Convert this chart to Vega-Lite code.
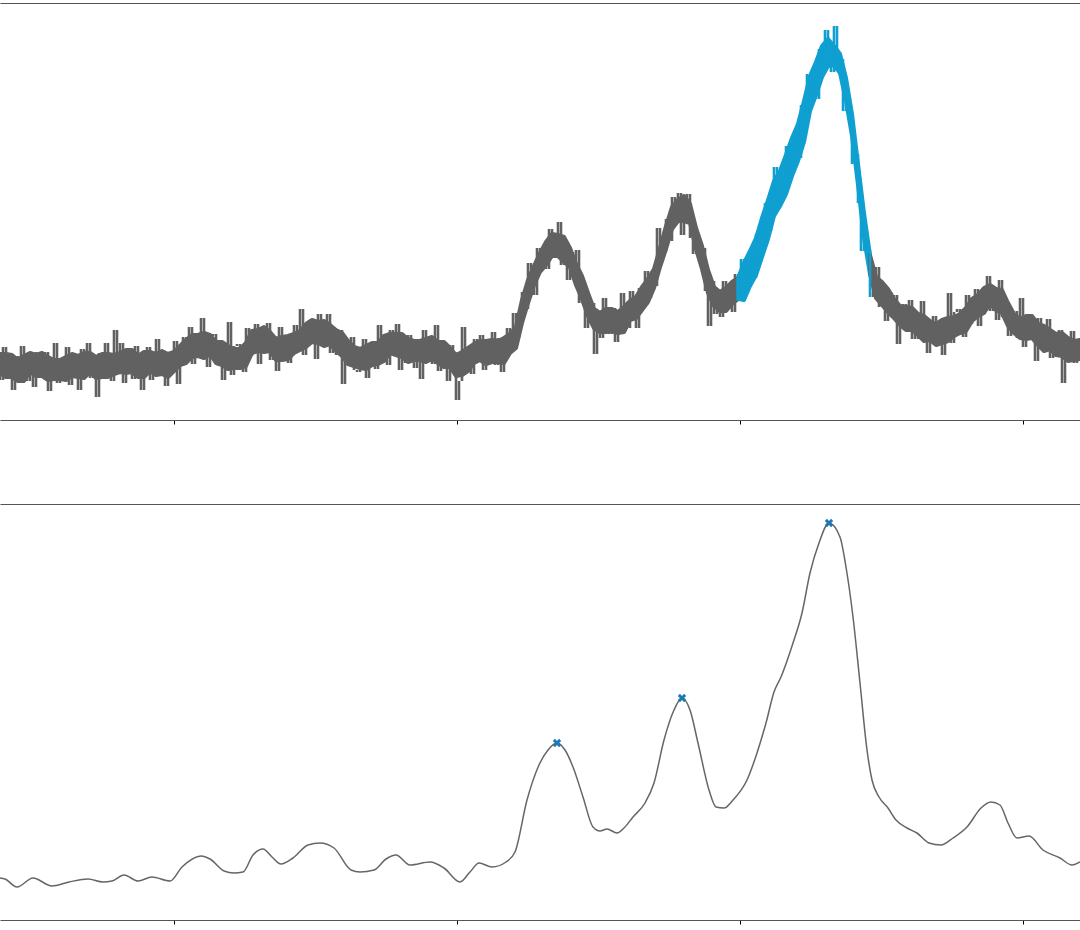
{
"$schema": "https://vega.github.io/schema/vega-lite/v6.json",
"padding": {"left": -3, "right": 0, "top": 3, "bottom": 0},
"autosize": {"type": "pad"},
"background": "white",
"config": {"view": {"stroke": null}},
"bounds": "flush",
"spacing": 84,
"datasets": {
"raw": [
{"x":0,"y":67,"n":40,"s":"a"},{"x":3,"y":40,"n":73,"s":"a"},{"x":6,"y":73,"n":46,"s":"a"},{"x":9,"y":46,"n":56,"s":"a"},{"x":12,"y":56,"n":30,"s":"a"},{"x":15,"y":30,"n":64,"s":"a"},{"x":18,"y":64,"n":39,"s":"a"},{"x":21,"y":39,"n":74,"s":"a"},{"x":24,"y":74,"n":49,"s":"a"},{"x":27,"y":49,"n":39,"s":"a"},{"x":30,"y":39,"n":65,"s":"a"},{"x":33,"y":65,"n":33,"s":"a"},{"x":36,"y":33,"n":68,"s":"a"},{"x":39,"y":68,"n":57,"s":"a"},{"x":42,"y":57,"n":43,"s":"a"},{"x":45,"y":43,"n":68,"s":"a"},{"x":48,"y":68,"n":29,"s":"a"},{"x":51,"y":29,"n":57,"s":"a"},{"x":54,"y":57,"n":77,"s":"a"},{"x":57,"y":77,"n":37,"s":"a"},{"x":60,"y":37,"n":61,"s":"a"},{"x":63,"y":61,"n":48,"s":"a"},{"x":66,"y":48,"n":73,"s":"a"},{"x":69,"y":73,"n":35,"s":"a"},{"x":72,"y":35,"n":55,"s":"a"},{"x":75,"y":55,"n":66,"s":"a"},{"x":78,"y":66,"n":30,"s":"a"},{"x":81,"y":30,"n":71,"s":"a"},{"x":84,"y":71,"n":49,"s":"a"},{"x":87,"y":49,"n":77,"s":"a"},{"x":90,"y":77,"n":42,"s":"a"},{"x":93,"y":42,"n":59,"s":"a"},{"x":96,"y":59,"n":23,"s":"a"},{"x":99,"y":23,"n":67,"s":"a"},{"x":102,"y":67,"n":44,"s":"a"},{"x":105,"y":44,"n":77,"s":"a"},{"x":108,"y":77,"n":51,"s":"a"},{"x":111,"y":51,"n":39,"s":"a"},{"x":114,"y":39,"n":90,"s":"a"},{"x":117,"y":90,"n":50,"s":"a"},
{"x":120,"y":50,"n":77,"s":"a"},{"x":123,"y":77,"n":37,"s":"a"},{"x":126,"y":37,"n":63,"s":"a"},{"x":129,"y":63,"n":69,"s":"a"},{"x":132,"y":69,"n":41,"s":"a"},{"x":135,"y":41,"n":74,"s":"a"},{"x":138,"y":74,"n":51,"s":"a"},{"x":141,"y":51,"n":30,"s":"a"},{"x":144,"y":30,"n":67,"s":"a"},{"x":147,"y":67,"n":73,"s":"a"},{"x":150,"y":73,"n":40,"s":"a"},{"x":153,"y":40,"n":60,"s":"a"},{"x":156,"y":60,"n":81,"s":"a"},{"x":159,"y":81,"n":44,"s":"a"},{"x":162,"y":44,"n":63,"s":"a"},{"x":165,"y":63,"n":34,"s":"a"},{"x":168,"y":34,"n":68,"s":"a"},{"x":171,"y":68,"n":57,"s":"a"},{"x":174,"y":57,"n":79,"s":"a"},{"x":177,"y":79,"n":36,"s":"a"},{"x":180,"y":36,"n":74,"s":"a"},{"x":183,"y":74,"n":83,"s":"a"},{"x":186,"y":83,"n":61,"s":"a"},{"x":189,"y":61,"n":93,"s":"a"},{"x":192,"y":93,"n":56,"s":"a"},{"x":195,"y":56,"n":79,"s":"a"},{"x":198,"y":79,"n":63,"s":"a"},{"x":201,"y":63,"n":102,"s":"a"},{"x":204,"y":102,"n":70,"s":"a"},{"x":207,"y":70,"n":53,"s":"a"},{"x":210,"y":53,"n":84,"s":"a"},{"x":213,"y":84,"n":86,"s":"a"},{"x":216,"y":86,"n":57,"s":"a"},{"x":219,"y":57,"n":66,"s":"a"},{"x":222,"y":66,"n":40,"s":"a"},{"x":225,"y":40,"n":71,"s":"a"},{"x":228,"y":71,"n":98,"s":"a"},{"x":231,"y":98,"n":45,"s":"a"},{"x":234,"y":45,"n":74,"s":"a"},{"x":237,"y":74,"n":76,"s":"a"},
{"x":240,"y":76,"n":55,"s":"a"},{"x":243,"y":55,"n":48,"s":"a"},{"x":246,"y":48,"n":92,"s":"a"},{"x":249,"y":92,"n":64,"s":"a"},{"x":252,"y":64,"n":83,"s":"a"},{"x":255,"y":83,"n":96,"s":"a"},{"x":258,"y":96,"n":56,"s":"a"},{"x":261,"y":56,"n":90,"s":"a"},{"x":264,"y":90,"n":76,"s":"a"},{"x":267,"y":76,"n":97,"s":"a"},{"x":270,"y":97,"n":60,"s":"a"},{"x":273,"y":60,"n":76,"s":"a"},{"x":276,"y":76,"n":49,"s":"a"},{"x":279,"y":49,"n":93,"s":"a"},{"x":282,"y":93,"n":63,"s":"a"},{"x":285,"y":63,"n":84,"s":"a"},{"x":288,"y":84,"n":57,"s":"a"},{"x":291,"y":57,"n":77,"s":"a"},{"x":294,"y":77,"n":95,"s":"a"},{"x":297,"y":95,"n":70,"s":"a"},{"x":300,"y":70,"n":111,"s":"a"},{"x":303,"y":111,"n":65,"s":"a"},{"x":306,"y":65,"n":94,"s":"a"},{"x":309,"y":94,"n":82,"s":"a"},{"x":312,"y":82,"n":100,"s":"a"},{"x":315,"y":100,"n":61,"s":"a"},{"x":318,"y":61,"n":106,"s":"a"},{"x":321,"y":106,"n":78,"s":"a"},{"x":324,"y":78,"n":88,"s":"a"},{"x":327,"y":88,"n":106,"s":"a"},{"x":330,"y":106,"n":67,"s":"a"},{"x":333,"y":67,"n":88,"s":"a"},{"x":336,"y":88,"n":65,"s":"a"},{"x":339,"y":65,"n":90,"s":"a"},{"x":342,"y":90,"n":36,"s":"a"},{"x":345,"y":36,"n":77,"s":"a"},{"x":348,"y":77,"n":60,"s":"a"},{"x":351,"y":60,"n":83,"s":"a"},{"x":354,"y":83,"n":50,"s":"a"},{"x":357,"y":50,"n":48,"s":"a"},
{"x":360,"y":48,"n":69,"s":"a"},{"x":363,"y":69,"n":81,"s":"a"},{"x":366,"y":81,"n":42,"s":"a"},{"x":369,"y":42,"n":76,"s":"a"},{"x":372,"y":76,"n":60,"s":"a"},{"x":375,"y":60,"n":51,"s":"a"},{"x":378,"y":51,"n":95,"s":"a"},{"x":381,"y":95,"n":63,"s":"a"},{"x":384,"y":63,"n":77,"s":"a"},{"x":387,"y":77,"n":55,"s":"a"},{"x":390,"y":55,"n":90,"s":"a"},{"x":393,"y":90,"n":73,"s":"a"},{"x":396,"y":73,"n":96,"s":"a"},{"x":399,"y":96,"n":50,"s":"a"},{"x":402,"y":50,"n":79,"s":"a"},{"x":405,"y":79,"n":57,"s":"a"},{"x":408,"y":57,"n":85,"s":"a"},{"x":411,"y":85,"n":68,"s":"a"},{"x":414,"y":68,"n":52,"s":"a"},{"x":417,"y":52,"n":80,"s":"a"},{"x":420,"y":80,"n":41,"s":"a"},{"x":423,"y":41,"n":90,"s":"a"},{"x":426,"y":90,"n":63,"s":"a"},{"x":429,"y":63,"n":75,"s":"a"},{"x":432,"y":75,"n":56,"s":"a"},{"x":435,"y":56,"n":95,"s":"a"},{"x":438,"y":95,"n":49,"s":"a"},{"x":441,"y":49,"n":75,"s":"a"},{"x":444,"y":75,"n":61,"s":"a"},{"x":447,"y":61,"n":39,"s":"a"},{"x":450,"y":39,"n":75,"s":"a"},{"x":453,"y":75,"n":49,"s":"a"},{"x":456,"y":49,"n":20,"s":"a"},{"x":459,"y":20,"n":39,"s":"a"},{"x":462,"y":39,"n":93,"s":"a"},{"x":465,"y":93,"n":50,"s":"a"},{"x":468,"y":50,"n":67,"s":"a"},{"x":471,"y":67,"n":46,"s":"a"},{"x":474,"y":46,"n":81,"s":"a"},{"x":477,"y":81,"n":60,"s":"a"},
{"x":480,"y":60,"n":85,"s":"a"},{"x":483,"y":85,"n":50,"s":"a"},{"x":486,"y":50,"n":76,"s":"a"},{"x":489,"y":76,"n":63,"s":"a"},{"x":492,"y":63,"n":88,"s":"a"},{"x":495,"y":88,"n":55,"s":"a"},{"x":498,"y":55,"n":82,"s":"a"},{"x":501,"y":82,"n":48,"s":"a"},{"x":504,"y":48,"n":77,"s":"a"},{"x":507,"y":77,"n":92,"s":"a"},{"x":510,"y":92,"n":70,"s":"a"},{"x":513,"y":70,"n":107,"s":"a"},{"x":516,"y":107,"n":82,"s":"a"},{"x":519,"y":82,"n":104,"s":"a"},{"x":522,"y":104,"n":128,"s":"a"},{"x":525,"y":128,"n":111,"s":"a"},{"x":528,"y":111,"n":157,"s":"a"},{"x":531,"y":157,"n":137,"s":"a"},{"x":534,"y":137,"n":125,"s":"a"},{"x":537,"y":125,"n":172,"s":"a"},{"x":540,"y":172,"n":153,"s":"a"},{"x":543,"y":153,"n":171,"s":"a"},{"x":546,"y":171,"n":151,"s":"a"},{"x":549,"y":151,"n":191,"s":"a"},{"x":552,"y":191,"n":174,"s":"a"},{"x":555,"y":174,"n":163,"s":"a"},{"x":558,"y":163,"n":198,"s":"a"},{"x":561,"y":198,"n":155,"s":"a"},{"x":564,"y":155,"n":173,"s":"a"},{"x":567,"y":173,"n":140,"s":"a"},{"x":570,"y":140,"n":168,"s":"a"},{"x":573,"y":168,"n":142,"s":"a"},{"x":576,"y":142,"n":170,"s":"a"},{"x":579,"y":170,"n":117,"s":"a"},{"x":582,"y":117,"n":132,"s":"a"},{"x":585,"y":132,"n":92,"s":"a"},{"x":588,"y":92,"n":110,"s":"a"},{"x":591,"y":110,"n":117,"s":"a"},{"x":594,"y":117,"n":66,"s":"a"},{"x":597,"y":66,"n":106,"s":"a"},
{"x":600,"y":106,"n":82,"s":"a"},{"x":603,"y":82,"n":122,"s":"a"},{"x":606,"y":122,"n":94,"s":"a"},{"x":609,"y":94,"n":86,"s":"a"},{"x":612,"y":86,"n":112,"s":"a"},{"x":615,"y":112,"n":78,"s":"a"},{"x":618,"y":78,"n":103,"s":"a"},{"x":621,"y":103,"n":127,"s":"a"},{"x":624,"y":127,"n":94,"s":"a"},{"x":627,"y":94,"n":92,"s":"a"},{"x":630,"y":92,"n":129,"s":"a"},{"x":633,"y":129,"n":111,"s":"a"},{"x":636,"y":111,"n":92,"s":"a"},{"x":639,"y":92,"n":132,"s":"a"},{"x":642,"y":132,"n":115,"s":"a"},{"x":645,"y":115,"n":149,"s":"a"},{"x":648,"y":149,"n":122,"s":"a"},{"x":651,"y":122,"n":142,"s":"a"},{"x":654,"y":142,"n":134,"s":"a"},{"x":657,"y":134,"n":192,"s":"a"},{"x":660,"y":192,"n":167,"s":"a"},{"x":663,"y":167,"n":169,"s":"a"},{"x":666,"y":169,"n":201,"s":"a"},{"x":669,"y":201,"n":179,"s":"a"},{"x":672,"y":179,"n":223,"s":"a"},{"x":675,"y":223,"n":206,"s":"a"},{"x":678,"y":206,"n":227,"s":"a"},{"x":681,"y":227,"n":185,"s":"a"},{"x":684,"y":185,"n":214,"s":"a"},{"x":687,"y":214,"n":226,"s":"a"},{"x":690,"y":226,"n":182,"s":"a"},{"x":693,"y":182,"n":166,"s":"a"},{"x":696,"y":166,"n":182,"s":"a"},{"x":699,"y":182,"n":160,"s":"a"},{"x":702,"y":160,"n":172,"s":"a"},{"x":705,"y":172,"n":129,"s":"a"},{"x":708,"y":129,"n":94,"s":"a"},{"x":711,"y":94,"n":139,"s":"a"},{"x":714,"y":139,"n":106,"s":"a"},{"x":717,"y":106,"n":129,"s":"a"},
{"x":720,"y":129,"n":103,"s":"a"},{"x":723,"y":103,"n":139,"s":"a"},{"x":726,"y":139,"n":115,"s":"a"},{"x":729,"y":115,"n":129,"s":"a"},{"x":732,"y":129,"n":108,"s":"a"},{"x":735,"y":108,"n":146,"s":"a"},
{"x":738,"y":146,"n":124,"s":"b"},{"x":741,"y":124,"n":161,"s":"b"},{"x":744,"y":161,"n":138,"s":"b"},{"x":747,"y":138,"n":133,"s":"b"},{"x":750,"y":133,"n":165,"s":"b"},{"x":753,"y":165,"n":142,"s":"b"},{"x":756,"y":142,"n":186,"s":"b"},{"x":759,"y":186,"n":184,"s":"b"},{"x":762,"y":184,"n":180,"s":"b"},{"x":765,"y":180,"n":217,"s":"b"},{"x":768,"y":217,"n":189,"s":"b"},{"x":771,"y":189,"n":228,"s":"b"},{"x":774,"y":228,"n":253,"s":"b"},{"x":777,"y":253,"n":218,"s":"b"},{"x":780,"y":218,"n":248,"s":"b"},{"x":783,"y":248,"n":242,"s":"b"},{"x":786,"y":242,"n":274,"s":"b"},{"x":789,"y":274,"n":243,"s":"b"},{"x":792,"y":243,"n":271,"s":"b"},{"x":795,"y":271,"n":290,"s":"b"},{"x":798,"y":290,"n":262,"s":"b"},{"x":801,"y":262,"n":315,"s":"b"},{"x":804,"y":315,"n":305,"s":"b"},{"x":807,"y":305,"n":346,"s":"b"},{"x":810,"y":346,"n":321,"s":"b"},{"x":813,"y":321,"n":348,"s":"b"},{"x":816,"y":348,"n":321,"s":"b"},{"x":819,"y":321,"n":371,"s":"b"},{"x":822,"y":371,"n":353,"s":"b"},{"x":825,"y":353,"n":390,"s":"b"},{"x":828,"y":390,"n":364,"s":"b"},{"x":831,"y":364,"n":348,"s":"b"},{"x":834,"y":348,"n":394,"s":"b"},{"x":837,"y":394,"n":349,"s":"b"},{"x":840,"y":349,"n":361,"s":"b"},{"x":843,"y":361,"n":309,"s":"b"},{"x":846,"y":309,"n":317,"s":"b"},{"x":849,"y":317,"n":305,"s":"b"},{"x":852,"y":305,"n":256,"s":"b"},{"x":855,"y":256,"n":266,"s":"b"},{"x":858,"y":266,"n":217,"s":"b"},{"x":861,"y":217,"n":169,"s":"b"},{"x":864,"y":169,"n":180,"s":"b"},{"x":867,"y":180,"n":170,"s":"b"},{"x":870,"y":170,"n":123,"s":"b"},
{"x":873,"y":123,"n":137,"s":"c"},{"x":876,"y":137,"n":153,"s":"c"},{"x":879,"y":153,"n":113,"s":"c"},{"x":882,"y":113,"n":130,"s":"c"},{"x":885,"y":130,"n":99,"s":"c"},{"x":888,"y":99,"n":128,"s":"c"},{"x":891,"y":128,"n":110,"s":"c"},{"x":894,"y":110,"n":125,"s":"c"},{"x":897,"y":125,"n":76,"s":"c"},{"x":900,"y":76,"n":111,"s":"c"},{"x":903,"y":111,"n":116,"s":"c"},{"x":906,"y":116,"n":91,"s":"c"},{"x":909,"y":91,"n":120,"s":"c"},{"x":912,"y":120,"n":81,"s":"c"},{"x":915,"y":81,"n":100,"s":"c"},{"x":918,"y":100,"n":81,"s":"c"},{"x":921,"y":81,"n":119,"s":"c"},{"x":924,"y":119,"n":85,"s":"c"},{"x":927,"y":85,"n":67,"s":"c"},{"x":930,"y":67,"n":99,"s":"c"},{"x":933,"y":99,"n":104,"s":"c"},{"x":936,"y":104,"n":76,"s":"c"},{"x":939,"y":76,"n":88,"s":"c"},{"x":942,"y":88,"n":65,"s":"c"},{"x":945,"y":65,"n":99,"s":"c"},{"x":948,"y":99,"n":127,"s":"c"},{"x":951,"y":127,"n":77,"s":"c"},{"x":954,"y":77,"n":108,"s":"c"},{"x":957,"y":108,"n":111,"s":"c"},
{"x":960,"y":111,"n":92,"s":"c"},{"x":963,"y":92,"n":83,"s":"c"},{"x":966,"y":83,"n":125,"s":"c"},{"x":969,"y":125,"n":96,"s":"c"},{"x":972,"y":96,"n":117,"s":"c"},{"x":975,"y":117,"n":131,"s":"c"},{"x":978,"y":131,"n":94,"s":"c"},{"x":981,"y":94,"n":129,"s":"c"},{"x":984,"y":129,"n":119,"s":"c"},{"x":987,"y":119,"n":144,"s":"c"},{"x":990,"y":144,"n":109,"s":"c"},{"x":993,"y":109,"n":126,"s":"c"},{"x":996,"y":126,"n":100,"s":"c"},{"x":999,"y":100,"n":140,"s":"c"},{"x":1002,"y":140,"n":103,"s":"c"},{"x":1005,"y":103,"n":117,"s":"c"},{"x":1008,"y":117,"n":84,"s":"c"},{"x":1011,"y":84,"n":97,"s":"c"},{"x":1014,"y":97,"n":109,"s":"c"},{"x":1017,"y":109,"n":82,"s":"c"},{"x":1020,"y":82,"n":122,"s":"c"},{"x":1023,"y":122,"n":73,"s":"c"},{"x":1026,"y":73,"n":102,"s":"c"},{"x":1029,"y":102,"n":86,"s":"c"},{"x":1032,"y":86,"n":102,"s":"c"},{"x":1035,"y":102,"n":59,"s":"c"},{"x":1038,"y":59,"n":102,"s":"c"},{"x":1041,"y":102,"n":73,"s":"c"},{"x":1044,"y":73,"n":83,"s":"c"},{"x":1047,"y":83,"n":101,"s":"c"},{"x":1050,"y":101,"n":62,"s":"c"},{"x":1053,"y":62,"n":84,"s":"c"},{"x":1056,"y":84,"n":63,"s":"c"},{"x":1059,"y":63,"n":90,"s":"c"},{"x":1062,"y":90,"n":37,"s":"c"},{"x":1065,"y":37,"n":80,"s":"c"},{"x":1068,"y":80,"n":65,"s":"c"},{"x":1071,"y":65,"n":89,"s":"c"},{"x":1074,"y":89,"n":57,"s":"c"},{"x":1077,"y":57,"n":81,"s":"c"},{"x":1080,"y":81,"n":66,"s":"c"}
],
"core": [
{"x":0,"lo":47,"hi":66,"s":"a"},{"x":6,"lo":43,"hi":66,"s":"a"},{"x":12,"lo":43,"hi":65,"s":"a"},{"x":18,"lo":39,"hi":60,"s":"a"},{"x":24,"lo":39,"hi":64,"s":"a"},{"x":30,"lo":48,"hi":67,"s":"a"},{"x":36,"lo":44,"hi":65,"s":"a"},{"x":42,"lo":44,"hi":67,"s":"a"},{"x":48,"lo":40,"hi":63,"s":"a"},{"x":54,"lo":41,"hi":60,"s":"a"},{"x":60,"lo":41,"hi":60,"s":"a"},{"x":66,"lo":40,"hi":63,"s":"a"},{"x":72,"lo":44,"hi":66,"s":"a"},{"x":78,"lo":43,"hi":64,"s":"a"},{"x":84,"lo":42,"hi":67,"s":"a"},{"x":90,"lo":48,"hi":67,"s":"a"},{"x":96,"lo":42,"hi":63,"s":"a"},{"x":102,"lo":43,"hi":66,"s":"a"},{"x":108,"lo":43,"hi":66,"s":"a"},{"x":114,"lo":46,"hi":65,"s":"a"},{"x":120,"lo":48,"hi":67,"s":"a"},{"x":126,"lo":47,"hi":70,"s":"a"},{"x":132,"lo":48,"hi":70,"s":"a"},{"x":138,"lo":43,"hi":64,"s":"a"},{"x":144,"lo":43,"hi":68,"s":"a"},{"x":150,"lo":49,"hi":68,"s":"a"},{"x":156,"lo":45,"hi":66,"s":"a"},{"x":162,"lo":46,"hi":69,"s":"a"},{"x":168,"lo":43,"hi":66,"s":"a"},{"x":174,"lo":49,"hi":68,"s":"a"},{"x":180,"lo":55,"hi":74,"s":"a"},{"x":186,"lo":57,"hi":80,"s":"a"},{"x":192,"lo":63,"hi":85,"s":"a"},{"x":198,"lo":64,"hi":85,"s":"a"},{"x":204,"lo":62,"hi":87,"s":"a"},{"x":210,"lo":66,"hi":85,"s":"a"},{"x":216,"lo":57,"hi":78,"s":"a"},{"x":222,"lo":55,"hi":78,"s":"a"},{"x":228,"lo":51,"hi":74,"s":"a"},{"x":234,"lo":52,"hi":71,"s":"a"},{"x":240,"lo":52,"hi":71,"s":"a"},{"x":246,"lo":54,"hi":77,"s":"a"},{"x":252,"lo":67,"hi":89,"s":"a"},{"x":258,"lo":69,"hi":90,"s":"a"},{"x":264,"lo":68,"hi":93,"s":"a"},{"x":270,"lo":69,"hi":88,"s":"a"},{"x":276,"lo":60,"hi":81,"s":"a"},{"x":282,"lo":60,"hi":83,"s":"a"},{"x":288,"lo":61,"hi":84,"s":"a"},{"x":294,"lo":67,"hi":86,"s":"a"},{"x":300,"lo":70,"hi":89,"s":"a"},{"x":306,"lo":73,"hi":96,"s":"a"},{"x":312,"lo":78,"hi":100,"s":"a"},{"x":318,"lo":77,"hi":98,"s":"a"},{"x":324,"lo":74,"hi":99,"s":"a"},{"x":330,"lo":76,"hi":95,"s":"a"},{"x":336,"lo":69,"hi":90,"s":"a"},{"x":342,"lo":64,"hi":87,"s":"a"},{"x":348,"lo":56,"hi":79,"s":"a"},{"x":354,"lo":54,"hi":73,"s":"a"},{"x":360,"lo":52,"hi":71,"s":"a"},{"x":366,"lo":51,"hi":74,"s":"a"},{"x":372,"lo":55,"hi":77,"s":"a"},{"x":378,"lo":56,"hi":77,"s":"a"},{"x":384,"lo":59,"hi":84,"s":"a"},{"x":390,"lo":67,"hi":86,"s":"a"},{"x":396,"lo":65,"hi":86,"s":"a"},{"x":402,"lo":63,"hi":86,"s":"a"},{"x":408,"lo":58,"hi":81,"s":"a"},{"x":414,"lo":60,"hi":79,"s":"a"},{"x":420,"lo":60,"hi":79,"s":"a"},{"x":426,"lo":58,"hi":81,"s":"a"},{"x":432,"lo":61,"hi":83,"s":"a"},{"x":438,"lo":57,"hi":78,"s":"a"},{"x":444,"lo":53,"hi":78,"s":"a"},{"x":450,"lo":53,"hi":72,"s":"a"},{"x":456,"lo":44,"hi":65,"s":"a"},{"x":462,"lo":45,"hi":68,"s":"a"},{"x":468,"lo":49,"hi":72,"s":"a"},{"x":474,"lo":57,"hi":76,"s":"a"},{"x":480,"lo":60,"hi":79,"s":"a"},{"x":486,"lo":56,"hi":79,"s":"a"},{"x":492,"lo":58,"hi":80,"s":"a"},{"x":498,"lo":58,"hi":79,"s":"a"},{"x":504,"lo":57,"hi":82,"s":"a"},{"x":510,"lo":67,"hi":86,"s":"a"},{"x":516,"lo":72,"hi":93,"s":"a"},{"x":522,"lo":97,"hi":120,"s":"a"},{"x":528,"lo":117,"hi":140,"s":"a"},{"x":534,"lo":135,"hi":154,"s":"a"},{"x":540,"lo":148,"hi":167,"s":"a"},{"x":546,"lo":155,"hi":178,"s":"a"},{"x":552,"lo":164,"hi":186,"s":"a"},{"x":558,"lo":164,"hi":185,"s":"a"},{"x":564,"lo":158,"hi":183,"s":"a"},{"x":570,"lo":153,"hi":172,"s":"a"},{"x":576,"lo":135,"hi":156,"s":"a"},{"x":582,"lo":121,"hi":144,"s":"a"},{"x":588,"lo":104,"hi":127,"s":"a"},{"x":594,"lo":92,"hi":111,"s":"a"},{"x":600,"lo":88,"hi":107,"s":"a"},{"x":606,"lo":88,"hi":111,"s":"a"},{"x":612,"lo":89,"hi":111,"s":"a"},{"x":618,"lo":87,"hi":108,"s":"a"},{"x":624,"lo":88,"hi":113,"s":"a"},{"x":630,"lo":100,"hi":119,"s":"a"},{"x":636,"lo":102,"hi":123,"s":"a"},{"x":642,"lo":110,"hi":133,"s":"a"},{"x":648,"lo":118,"hi":141,"s":"a"},{"x":654,"lo":132,"hi":151,"s":"a"},{"x":660,"lo":153,"hi":172,"s":"a"},{"x":666,"lo":171,"hi":194,"s":"a"},{"x":672,"lo":191,"hi":213,"s":"a"},{"x":678,"lo":199,"hi":220,"s":"a"},{"x":684,"lo":199,"hi":224,"s":"a"},{"x":690,"lo":197,"hi":216,"s":"a"},{"x":696,"lo":171,"hi":192,"s":"a"},{"x":702,"lo":151,"hi":174,"s":"a"},{"x":708,"lo":127,"hi":150,"s":"a"},{"x":714,"lo":114,"hi":133,"s":"a"},{"x":720,"lo":109,"hi":128,"s":"a"},{"x":726,"lo":109,"hi":132,"s":"a"},{"x":732,"lo":116,"hi":138,"s":"a"},{"x":738,"lo":121,"hi":142,"s":"a"},
{"x":738,"lo":121,"hi":142,"s":"b"},{"x":744,"lo":120,"hi":157,"s":"b"},{"x":750,"lo":134,"hi":169,"s":"b"},{"x":756,"lo":145,"hi":182,"s":"b"},{"x":762,"lo":163,"hi":202,"s":"b"},{"x":768,"lo":181,"hi":220,"s":"b"},{"x":774,"lo":204,"hi":239,"s":"b"},{"x":780,"lo":214,"hi":249,"s":"b"},{"x":786,"lo":226,"hi":265,"s":"b"},{"x":792,"lo":244,"hi":282,"s":"b"},{"x":798,"lo":259,"hi":296,"s":"b"},{"x":804,"lo":278,"hi":319,"s":"b"},{"x":810,"lo":309,"hi":344,"s":"b"},{"x":816,"lo":325,"hi":358,"s":"b"},{"x":822,"lo":343,"hi":374,"s":"b"},{"x":828,"lo":354,"hi":381,"s":"b"},{"x":834,"lo":355,"hi":374,"s":"b"},{"x":840,"lo":347,"hi":366,"s":"b"},{"x":846,"lo":319,"hi":342,"s":"b"},{"x":852,"lo":284,"hi":306,"s":"b"},{"x":858,"lo":235,"hi":256,"s":"b"},{"x":864,"lo":182,"hi":207,"s":"b"},{"x":870,"lo":146,"hi":165,"s":"b"},
{"x":870,"lo":146,"hi":165,"s":"c"},{"x":876,"lo":122,"hi":143,"s":"c"},{"x":882,"lo":115,"hi":138,"s":"c"},{"x":888,"lo":108,"hi":131,"s":"c"},{"x":894,"lo":102,"hi":121,"s":"c"},{"x":900,"lo":95,"hi":114,"s":"c"},{"x":906,"lo":90,"hi":113,"s":"c"},{"x":912,"lo":90,"hi":112,"s":"c"},{"x":918,"lo":85,"hi":106,"s":"c"},{"x":924,"lo":79,"hi":104,"s":"c"},{"x":930,"lo":80,"hi":99,"s":"c"},{"x":936,"lo":75,"hi":96,"s":"c"},{"x":942,"lo":77,"hi":100,"s":"c"},{"x":948,"lo":79,"hi":102,"s":"c"},{"x":954,"lo":84,"hi":103,"s":"c"},{"x":960,"lo":87,"hi":106,"s":"c"},{"x":966,"lo":89,"hi":112,"s":"c"},{"x":972,"lo":99,"hi":121,"s":"c"},{"x":978,"lo":104,"hi":125,"s":"c"},{"x":984,"lo":107,"hi":132,"s":"c"},{"x":990,"lo":116,"hi":135,"s":"c"},{"x":996,"lo":110,"hi":131,"s":"c"},{"x":1002,"lo":107,"hi":130,"s":"c"},{"x":1008,"lo":94,"hi":117,"s":"c"},{"x":1014,"lo":87,"hi":106,"s":"c"},{"x":1020,"lo":82,"hi":101,"s":"c"},{"x":1026,"lo":81,"hi":104,"s":"c"},{"x":1032,"lo":82,"hi":104,"s":"c"},{"x":1038,"lo":75,"hi":96,"s":"c"},{"x":1044,"lo":69,"hi":94,"s":"c"},{"x":1050,"lo":71,"hi":90,"s":"c"},{"x":1056,"lo":65,"hi":86,"s":"c"},{"x":1062,"lo":64,"hi":87,"s":"c"},{"x":1068,"lo":59,"hi":82,"s":"c"},{"x":1074,"lo":60,"hi":79,"s":"c"},{"x":1080,"lo":61,"hi":80,"s":"c"}
],
"smooth": [
{"x":0,"y":42},{"x":5,"y":41},{"x":17,"y":33},{"x":33,"y":42},{"x":52,"y":34},{"x":69,"y":38},{"x":88,"y":41},{"x":103,"y":38},{"x":112,"y":39},{"x":124,"y":45},{"x":138,"y":39},{"x":152,"y":43},{"x":170,"y":39},{"x":182,"y":53},{"x":201,"y":64},{"x":210,"y":61},{"x":224,"y":49},{"x":234,"y":47},{"x":243,"y":48},{"x":253,"y":65},{"x":263,"y":71},{"x":272,"y":63},{"x":281,"y":56},{"x":293,"y":62},{"x":308,"y":75},{"x":320,"y":77},{"x":334,"y":72},{"x":351,"y":50},{"x":360,"y":48},{"x":374,"y":50},{"x":386,"y":61},{"x":396,"y":65},{"x":410,"y":55},{"x":430,"y":58},{"x":444,"y":52},{"x":460,"y":38},{"x":470,"y":48},{"x":479,"y":57},{"x":492,"y":53},{"x":506,"y":58},{"x":515,"y":68},{"x":527,"y":120},{"x":539,"y":155},{"x":548,"y":170},{"x":557,"y":177},{"x":565,"y":170},{"x":573,"y":153},{"x":583,"y":123},{"x":593,"y":93},{"x":600,"y":89},{"x":607,"y":91},{"x":617,"y":87},{"x":624,"y":92},{"x":633,"y":103},{"x":645,"y":117},{"x":654,"y":137},{"x":664,"y":180},{"x":674,"y":210},{"x":682,"y":222},{"x":690,"y":210},{"x":698,"y":177},{"x":709,"y":130},{"x":716,"y":113},{"x":724,"y":112},{"x":733,"y":120},{"x":747,"y":140},{"x":757,"y":167},{"x":766,"y":197},{"x":774,"y":228},{"x":781,"y":243},{"x":793,"y":277},{"x":802,"y":307},{"x":810,"y":347},{"x":819,"y":377},{"x":829,"y":397},{"x":840,"y":383},{"x":846,"y":353},{"x":853,"y":303},{"x":860,"y":237},{"x":867,"y":170},{"x":872,"y":140},{"x":879,"y":123},{"x":888,"y":112},{"x":896,"y":100},{"x":907,"y":92},{"x":917,"y":87},{"x":929,"y":77},{"x":941,"y":75},{"x":953,"y":82},{"x":967,"y":93},{"x":981,"y":112},{"x":991,"y":118},{"x":1000,"y":115},{"x":1008,"y":97},{"x":1017,"y":82},{"x":1029,"y":84},{"x":1043,"y":70},{"x":1060,"y":62},{"x":1072,"y":55},{"x":1080,"y":58}
],
"peaks": [
{"x":557,"y":177},{"x":682,"y":222},{"x":829,"y":397}
]
},
"vconcat": [
{
"width": 1080,
"height": 417,
"resolve": {"axis": {"x": "independent"}},
"layer": [
{
"data": {"name": "core"},
"mark": {"type": "area", "opacity": 1, "strokeWidth": 4, "strokeJoin": "round"},
"encoding": {
"x": {"field": "x", "type": "quantitative", "scale": {"domain": [0, 1080], "nice": false, "zero": false, "padding": 0}, "axis": {"orient": "bottom", "values": [174, 457, 740, 1023], "labels": false, "ticks": true, "tickSize": 4, "tickColor": "#000000", "tickWidth": 1, "domainColor": "#555555", "domainWidth": 1.2, "grid": false, "title": null}},
"y": {"field": "lo", "type": "quantitative", "scale": {"domain": [0, 417], "nice": false, "zero": false}, "axis": null},
"y2": {"field": "hi"},
"color": {"field": "s", "type": "nominal", "scale": {"domain": ["a", "b", "c"], "range": ["#616161", "#0f9fd0", "#616161"]}, "legend": null},
"stroke": {"field": "s", "type": "nominal", "scale": {"domain": ["a", "b", "c"], "range": ["#616161", "#0f9fd0", "#616161"]}, "legend": null}
}
},
{
"data": {"name": "raw"},
"mark": {"type": "bar", "width": 2.6, "opacity": 1},
"encoding": {
"x": {"field": "x", "type": "quantitative", "scale": {"domain": [0, 1080], "nice": false, "zero": false, "padding": 0}, "axis": {"orient": "top", "labels": false, "ticks": false, "domainColor": "#555555", "domainWidth": 1.2, "grid": false, "title": null}},
"y": {"field": "y", "type": "quantitative", "scale": {"domain": [0, 417], "nice": false, "zero": false}, "axis": null},
"y2": {"field": "n"},
"color": {"field": "s", "type": "nominal", "scale": {"domain": ["a", "b", "c"], "range": ["#616161", "#0f9fd0", "#616161"]}, "legend": null}
}
}
]
},
{
"width": 1080,
"height": 416,
"resolve": {"axis": {"x": "independent"}},
"layer": [
{
"data": {"name": "smooth"},
"mark": {"type": "line", "interpolate": "monotone", "color": "#666666", "strokeWidth": 1.5},
"encoding": {
"x": {"field": "x", "type": "quantitative", "scale": {"domain": [0, 1080], "nice": false, "zero": false, "padding": 0}, "axis": {"orient": "bottom", "values": [174, 457, 740, 1023], "labels": false, "ticks": true, "tickSize": 4, "tickColor": "#000000", "tickWidth": 1, "domainColor": "#555555", "domainWidth": 1.2, "grid": false, "title": null}},
"y": {"field": "y", "type": "quantitative", "scale": {"domain": [0, 416], "nice": false, "zero": false}, "axis": null}
}
},
{
"data": {"name": "peaks"},
"mark": {"type": "point", "shape": "M-1,-0.5L-0.5,-1L0,-0.5L0.5,-1L1,-0.5L0.5,0L1,0.5L0.5,1L0,0.5L-0.5,1L-1,0.5L-0.5,0Z", "filled": true, "color": "#1f77b4", "size": 70, "opacity": 1},
"encoding": {
"x": {"field": "x", "type": "quantitative", "scale": {"domain": [0, 1080], "nice": false, "zero": false, "padding": 0}, "axis": {"orient": "top", "labels": false, "ticks": false, "domainColor": "#555555", "domainWidth": 1.2, "grid": false, "title": null}},
"y": {"field": "y", "type": "quantitative", "scale": {"domain": [0, 416], "nice": false, "zero": false}, "axis": null}
}
}
]
}
]
}
